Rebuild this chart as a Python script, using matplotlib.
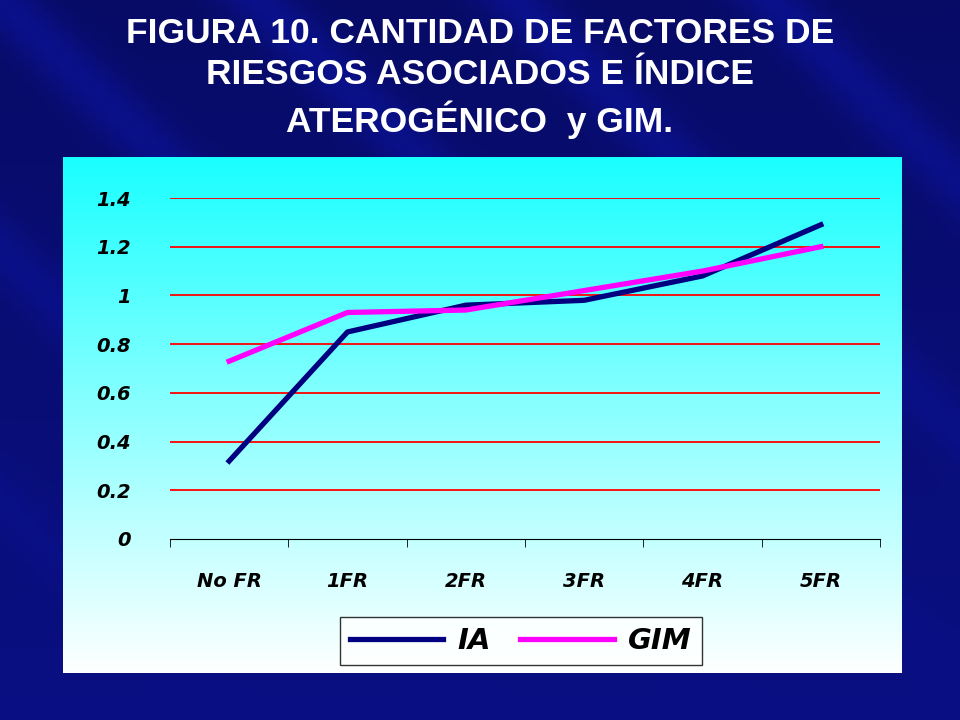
import matplotlib
matplotlib.use("Agg")
import matplotlib.pyplot as plt
import numpy as np

CATEGORIES = ["No FR", "1FR", "2FR", "3FR", "4FR", "5FR"]
IA = [0.32, 0.85, 0.96, 0.98, 1.08, 1.29]
GIM = [0.73, 0.93, 0.94, 1.02, 1.10, 1.20]
YTICKS = [0, 0.2, 0.4, 0.6, 0.8, 1, 1.2, 1.4]
TITLE = "FIGURA 10. CANTIDAD DE FACTORES DE\nRIESGOS ASOCIADOS E ÍNDICE\nATEROGÉNICO  y GIM."

W, H = 960, 720
fig = plt.figure(figsize=(W / 100, H / 100), dpi=100)

# slide background: dark blue gradient
bg = fig.add_axes([0, 0, 1, 1])
yy, xx = np.mgrid[0:1:200j, 0:1:200j]
shade = 0.55 + 0.25 * np.cos((xx * 1.3 - yy) * 9) ** 8 * (1 - yy) + 0.2 * yy
rgb = np.dstack([0.05 * shade, 0.08 * shade, 0.55 * shade + 0.1])
bg.imshow(rgb, extent=[0, 1, 0, 1], aspect="auto", origin="upper")
bg.axis("off")

fig.text(0.5, 1 - 78 / H, TITLE, ha="center", va="center", color="white",
         fontsize=25.5, fontweight="bold", family="Liberation Sans", linespacing=1.3)

# chart panel: cyan -> white gradient
panel = fig.add_axes([63 / W, 1 - 673 / H, (902 - 63) / W, (673 - 157) / H])
g = np.linspace(0, 1, 256)[:, None]
prgb = np.dstack([0.1 + 0.9 * g, np.ones_like(g), np.ones_like(g)])
panel.imshow(prgb, extent=[0, 1, 0, 1], aspect="auto", origin="upper")
panel.axis("off")

ax = fig.add_axes([170 / W, 1 - 539 / H, (880 - 170) / W, (539 - 198) / H])
ax.patch.set_alpha(0)
x = np.arange(len(CATEGORIES))
ax.plot(x, IA, color="#000080", lw=3.8, label="IA", zorder=3)
ax.plot(x, GIM, color="#ff00ff", lw=3.8, label="GIM", zorder=3)
ax.set_xlim(-0.5, len(CATEGORIES) - 0.5)
ax.set_ylim(0, 1.4)
ax.set_yticks(YTICKS)
ax.set_yticklabels([f"{v:g}" for v in YTICKS])
for v in YTICKS[1:]:
    ax.axhline(v, color="#ff0000", lw=1.3, zorder=1)
ax.set_xticks(x)
ax.set_xticklabels(CATEGORIES)
ax.set_xticks(np.arange(-0.5, len(CATEGORIES)), minor=True)
ax.tick_params(axis="x", which="major", length=0, pad=24)
ax.tick_params(axis="x", which="minor", length=6)
ax.tick_params(axis="y", length=0, pad=28)
for lab in ax.get_xticklabels() + ax.get_yticklabels():
    lab.set_fontfamily("DejaVu Sans")
    lab.set_fontweight("bold")
    lab.set_fontstyle("italic")
    lab.set_fontsize(14)
for s in ["top", "right", "left"]:
    ax.spines[s].set_visible(False)
ax.spines["bottom"].set_color("black")

leg = fig.legend(loc="center", bbox_to_anchor=(521 / W, 1 - 641 / H), ncol=2,
                 frameon=True, fancybox=False, handlelength=3.2, columnspacing=1.0,
                 handletextpad=0.5, borderpad=0.35,
                 prop={"family": "DejaVu Sans", "weight": "bold",
                       "style": "italic", "size": 21})
leg.get_frame().set_edgecolor("black")
leg.get_frame().set_facecolor("white")

fig.savefig("out.png", dpi=100)
